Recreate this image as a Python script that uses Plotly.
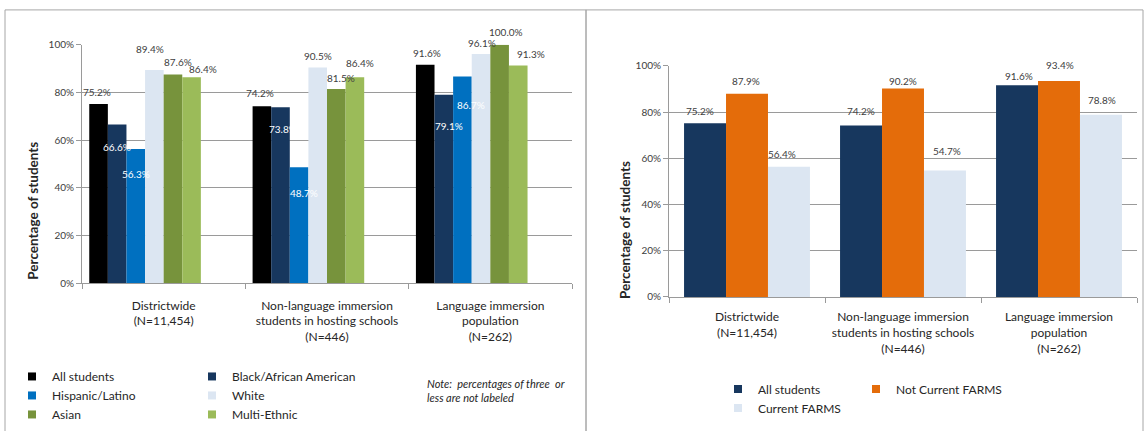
import plotly.graph_objects as go

# ---------------- data ----------------
categories = [
    "Districtwide<br>(N=11,454)",
    "Non-language immersion<br>students in hosting schools<br>(N=446)",
    "Language immersion<br>population<br>(N=262)",
]
y_ticks = [0, 20, 40, 60, 80, 100]
y_tick_labels = ["0%", "20%", "40%", "60%", "80%", "100%"]

# left panel: by race / ethnicity
group_names = ["All students", "Black/African American", "Hispanic/Latino",
               "White", "Asian", "Multi-Ethnic"]
all_students = [75.2, 74.2, 91.6]
black_african_american = [66.6, 73.8, 79.1]
hispanic_latino = [56.3, 48.7, 86.7]
white = [89.4, 90.5, 96.1]
asian = [87.6, 81.5, 100.0]
multi_ethnic = [86.4, 86.4, 91.3]

# right panel: by FARMS status
farms_names = ["All students", "Not Current FARMS", "Current FARMS"]
farms_all_students = [75.2, 74.2, 91.6]
not_current_farms = [87.9, 90.2, 93.4]
current_farms = [56.4, 54.7, 78.8]

note_text = "Note:  percentages of three  or<br>less are not labeled"
axis_title = "Percentage of students"

# ---------------- styling ----------------
W, H = 1146, 431
FONT = "Lato"
TXT = "#262626"
LBL = "#404040"
GRID = "#9a9a9a"
BORDER = "#a6a6a6"

race_colors = ["#000000", "#17375E", "#0070C0", "#DCE6F2", "#77933C", "#9BBB59"]
farms_colors = ["#17375E", "#E46C0A", "#DCE6F2"]

# label placement: pixels above the bar top (negative = inside the bar), and sideways nudge
race_label_lift = [[12, 13, 11.5], [-22, -21.5, -31], [-25, -25.5, -28],
                   [21.5, 11.5, 11.5], [12, 10.5, 13], [8.5, 14, 12]]
race_label_dx = [[-1.5, -2, 1.5], [0, 3, 5], [0, 5, 9],
                 [-4, 0, 1], [5, 5, 6], [11, 5, 13]]
race_label_color = [LBL, "#ffffff", "#ffffff", LBL, LBL, LBL]

farms_label_lift = [[12.5, 14, 9], [12.8, 8, 15.7], [13, 20, 14.5]]
farms_label_dx = [[-5, 0, 2], [-1, 0, 1], [-7, 2, 1]]


def px_x(p):
    return p / W


def px_y(p):
    return 1 - p / H


left_dom_x = [px_x(82), px_x(572)]
left_dom_y = [px_y(285), px_y(39)]
right_dom_x = [px_x(669), px_x(1137)]
right_dom_y = [px_y(299), px_y(60.7)]

# bar slots inside a category (fraction of the category width)
race_bar_w = 0.1139          # eight slots per category, six in use
race_group_start = -4 * race_bar_w
farms_bar_w = 0.269
farms_group_start = -1.5 * farms_bar_w

fig = go.Figure()

race_series = [all_students, black_african_american, hispanic_latino,
               white, asian, multi_ethnic]
farms_series = [farms_all_students, not_current_farms, current_farms]

annotations = []

for k, (name, vals) in enumerate(zip(group_names, race_series)):
    off = race_group_start + k * race_bar_w
    fig.add_trace(go.Bar(
        x=categories, y=vals, name=name, xaxis="x", yaxis="y",
        marker=dict(color=race_colors[k], line=dict(width=0)),
        width=race_bar_w, offset=off, showlegend=False,
        hoverinfo="skip",
    ))
    for i, v in enumerate(vals):
        annotations.append(dict(
            x=i + off + race_bar_w / 2, y=v, xref="x", yref="y",
            text=f"{v:.1f}%", showarrow=False,
            xshift=race_label_dx[k][i], yshift=race_label_lift[k][i],
            font=dict(family=FONT, size=10, color=race_label_color[k]),
            xanchor="center", yanchor="middle",
        ))

for k, (name, vals) in enumerate(zip(farms_names, farms_series)):
    off = farms_group_start + k * farms_bar_w
    fig.add_trace(go.Bar(
        x=categories, y=vals, name=name, xaxis="x2", yaxis="y2",
        marker=dict(color=farms_colors[k], line=dict(width=0)),
        width=farms_bar_w, offset=off, showlegend=False,
        hoverinfo="skip",
    ))
    for i, v in enumerate(vals):
        annotations.append(dict(
            x=i + off + farms_bar_w / 2, y=v, xref="x2", yref="y2",
            text=f"{v:.1f}%", showarrow=False,
            xshift=farms_label_dx[k][i], yshift=farms_label_lift[k][i],
            font=dict(family=FONT, size=10, color=LBL),
            xanchor="center", yanchor="middle",
        ))

# legend entries (small square keys), split into columns
race_legend_of = ["legend", "legend2", "legend", "legend2", "legend", "legend2"]
for k, name in enumerate(group_names):
    fig.add_trace(go.Scatter(
        x=[None], y=[None], mode="markers", name=name,
        marker=dict(symbol="square", size=8, color=race_colors[k]),
        legend=race_legend_of[k], xaxis="x", yaxis="y",
    ))
farms_legend_of = ["legend3", "legend4", "legend3"]
for k, name in enumerate(farms_names):
    fig.add_trace(go.Scatter(
        x=[None], y=[None], mode="markers", name=name,
        marker=dict(symbol="square", size=8, color=farms_colors[k]),
        legend=farms_legend_of[k], xaxis="x2", yaxis="y2",
    ))

legend_common = dict(
    orientation="v", xanchor="left", yanchor="top",
    font=dict(family=FONT, size=12, color=TXT),
    bgcolor="rgba(0,0,0,0)", itemwidth=30, tracegroupgap=0,
    traceorder="normal",
)

x_common = dict(
    type="category", range=[-0.5, 2.5], tickson="boundaries",
    ticks="outside", ticklen=5, tickcolor=GRID, showline=True,
    linecolor=GRID, linewidth=1, showgrid=False, zeroline=False,
    tickfont=dict(family=FONT, size=12, color=TXT), fixedrange=True,
)
y_common = dict(
    range=[0, 100], tickmode="array", tickvals=y_ticks, ticktext=y_tick_labels,
    showgrid=True, gridcolor=GRID, gridwidth=1, showline=True, linecolor=GRID,
    ticks="outside", ticklen=5, tickcolor=GRID, zeroline=False,
    tickfont=dict(family=FONT, size=10, color=LBL), fixedrange=True,
)

annotations += [
    dict(x=px_x(33), y=px_y(210), xref="paper", yref="paper",
         text=f"<b>{axis_title}</b>", textangle=-90, showarrow=False,
         font=dict(family=FONT, size=13.5, color=TXT),
         xanchor="center", yanchor="middle"),
    dict(x=px_x(625), y=px_y(230), xref="paper", yref="paper",
         text=f"<b>{axis_title}</b>", textangle=-90, showarrow=False,
         font=dict(family=FONT, size=13.5, color=TXT),
         xanchor="center", yanchor="middle"),
    dict(x=px_x(425), y=px_y(395), xref="paper", yref="paper",
         text=f"<i>{note_text}</i>", showarrow=False, align="left",
         font=dict(family=FONT, size=11, color=TXT),
         xanchor="left", yanchor="middle"),
]

shapes = [
    dict(type="rect", xref="paper", yref="paper",
         x0=px_x(5), x1=px_x(586), y0=px_y(440), y1=px_y(3),
         line=dict(color=BORDER, width=1)),
    dict(type="rect", xref="paper", yref="paper",
         x0=px_x(586), x1=px_x(1143), y0=px_y(440), y1=px_y(3),
         line=dict(color=BORDER, width=1)),
]

fig.update_layout(
    width=W, height=H, autosize=False,
    margin=dict(l=0, r=0, t=0, b=0),
    paper_bgcolor="white", plot_bgcolor="white",
    font=dict(family=FONT, color=TXT),
    barmode="group",
    xaxis=dict(domain=left_dom_x, anchor="y", ticklabelstandoff=11, **x_common),
    yaxis=dict(domain=left_dom_y, anchor="x", **y_common),
    xaxis2=dict(domain=right_dom_x, anchor="y2", ticklabelstandoff=9, **x_common),
    yaxis2=dict(domain=right_dom_y, anchor="x2", **y_common),
    legend=dict(x=px_x(12), y=px_y(366), **legend_common),
    legend2=dict(x=px_x(192), y=px_y(366), **legend_common),
    legend3=dict(x=px_x(718), y=px_y(379), **legend_common),
    legend4=dict(x=px_x(856), y=px_y(379), **legend_common),
    annotations=annotations,
    shapes=shapes,
    showlegend=True,
)

fig.write_html("out.html")
